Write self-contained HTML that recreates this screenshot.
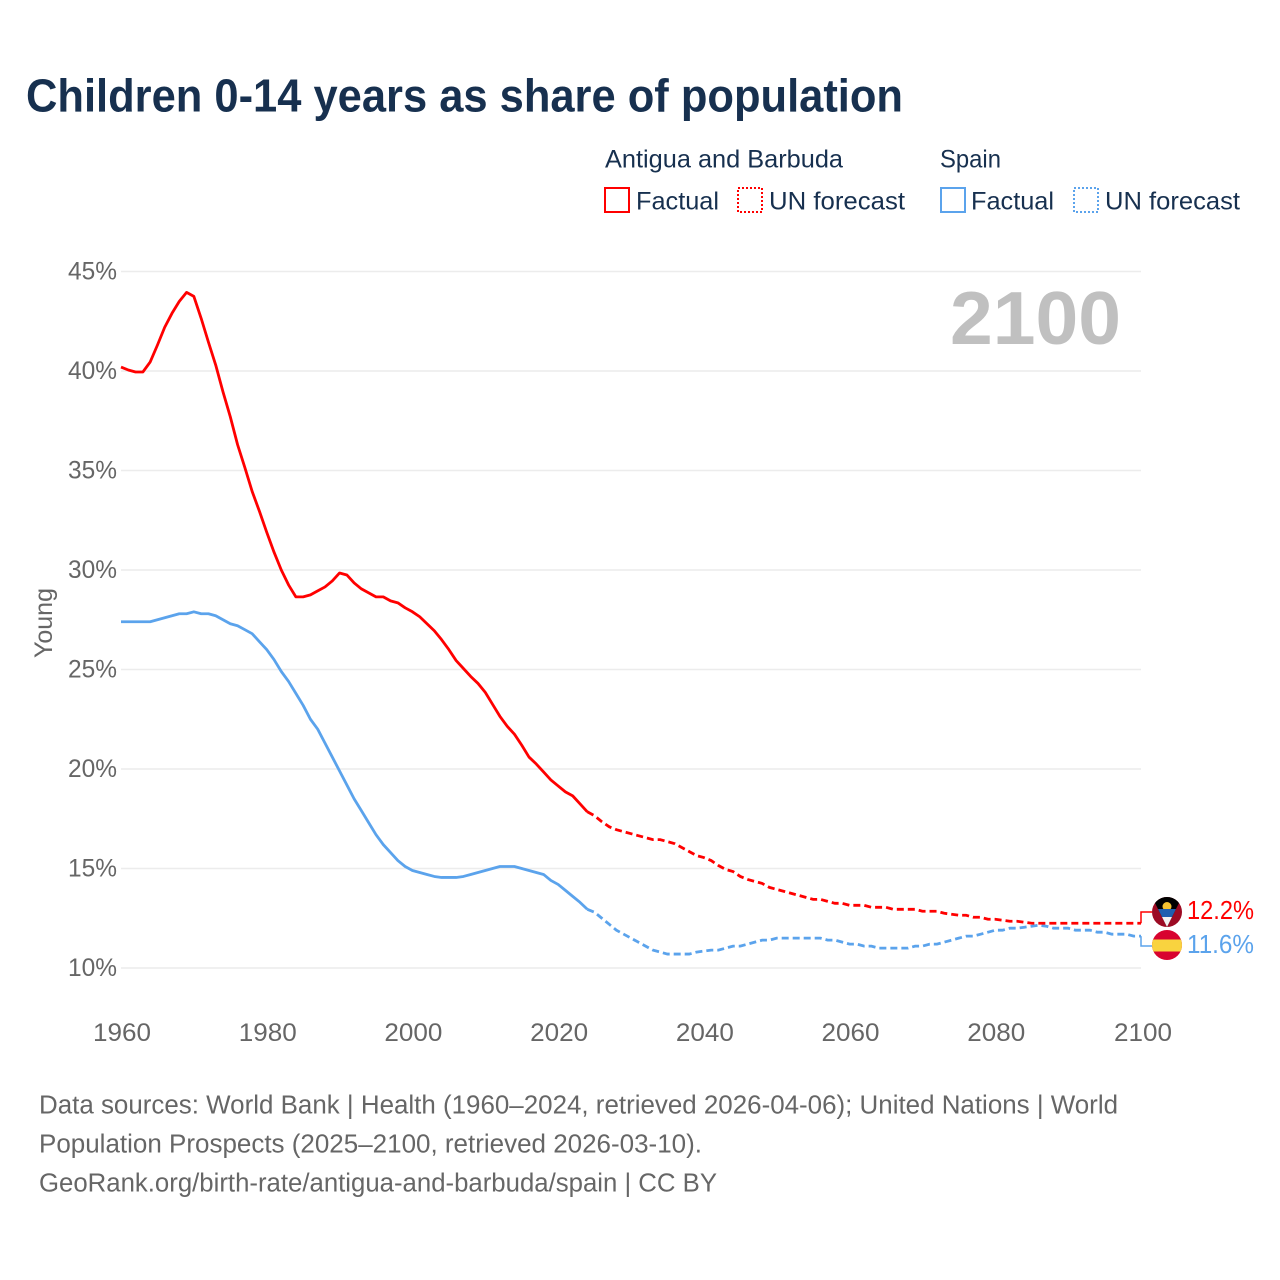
<!DOCTYPE html>
<html lang="en">
<head>
<meta charset="utf-8">
<title>Children 0-14 years as share of population</title>
<style>
html,body{margin:0;padding:0;background:#fff}
svg{display:block;font-family:"Liberation Sans",sans-serif}
.legend{fill:#17304f;font-size:25px}
.foot{fill:#666;font-size:25.5px}
.tick{fill:#666;font-size:25px}
</style>
</head>
<body>
<svg id="chart" xmlns="http://www.w3.org/2000/svg" width="1280" height="1280" viewBox="0 0 1280 1280">
<rect width="1280" height="1280" fill="#fff"/>
<text x="26" y="111.5" font-size="46" font-weight="700" fill="#17304f" textLength="877" lengthAdjust="spacingAndGlyphs">Children 0-14 years as share of population</text>

<g>
<text class="legend" x="605" y="167.5" textLength="238" lengthAdjust="spacingAndGlyphs">Antigua and Barbuda</text>
<text class="legend" x="940" y="167.5" textLength="61" lengthAdjust="spacingAndGlyphs">Spain</text>
<rect x="605" y="188" width="24" height="24" fill="none" stroke="#ff0000" stroke-width="2"/>
<text class="legend" x="636" y="209.5" textLength="83" lengthAdjust="spacingAndGlyphs">Factual</text>
<rect x="738" y="188" width="24" height="24" fill="none" stroke="#ff0000" stroke-width="2" stroke-dasharray="2 2"/>
<text class="legend" x="769" y="209.5" textLength="136" lengthAdjust="spacingAndGlyphs">UN forecast</text>
<rect x="941" y="188" width="24" height="24" fill="none" stroke="#5ba3ec" stroke-width="2"/>
<text class="legend" x="971" y="209.5" textLength="83" lengthAdjust="spacingAndGlyphs">Factual</text>
<rect x="1074" y="188" width="24" height="24" fill="none" stroke="#5ba3ec" stroke-width="2" stroke-dasharray="2 2"/>
<text class="legend" x="1105" y="209.5" textLength="135" lengthAdjust="spacingAndGlyphs">UN forecast</text>
</g>

<g id="grid"></g>
<g id="yticks"></g>
<g id="xticks"></g>
<text transform="translate(52,623) rotate(-90)" text-anchor="middle" font-size="25" fill="#666" textLength="70" lengthAdjust="spacingAndGlyphs">Young</text>
<text x="950" y="344" font-size="75" font-weight="700" fill="#c0c0c0" textLength="171" lengthAdjust="spacingAndGlyphs">2100</text>
<g id="series"></g>

<defs>
<clipPath id="clipA"><circle cx="1167" cy="912" r="15"/></clipPath>
<clipPath id="clipS"><circle cx="1167" cy="945" r="15"/></clipPath>
</defs>
<g clip-path="url(#clipA)">
<rect x="1152" y="897" width="30" height="30" fill="#9c0b24"/>
<polygon points="1152,897 1182,897 1167,927" fill="#000"/>
<circle cx="1167" cy="906.5" r="4.5" fill="#f5c231"/>
<polygon points="1158,909 1176,909 1172,917 1162,917" fill="#1f5fb0"/>
<polygon points="1162,917 1172,917 1167,927" fill="#f2f2f2"/>
</g>
<g clip-path="url(#clipS)">
<rect x="1152" y="930" width="30" height="30" fill="#d8032f"/>
<rect x="1152" y="939.5" width="30" height="12" fill="#f9d33f"/>
</g>
<text x="1187" y="919" font-size="26" fill="#ff0000" textLength="67" lengthAdjust="spacingAndGlyphs">12.2%</text>
<text x="1187" y="953" font-size="26" fill="#5ba3ec" textLength="67" lengthAdjust="spacingAndGlyphs">11.6%</text>

<g>
<text class="foot" x="39" y="1113.5" textLength="1079" lengthAdjust="spacingAndGlyphs">Data sources: World Bank | Health (1960–2024, retrieved 2026-04-06); United Nations | World</text>
<text class="foot" x="39" y="1152.5" textLength="663" lengthAdjust="spacingAndGlyphs">Population Prospects (2025–2100, retrieved 2026-03-10).</text>
<text class="foot" x="39" y="1191.5" textLength="678" lengthAdjust="spacingAndGlyphs">GeoRank.org/birth-rate/antigua-and-barbuda/spain | CC BY</text>
</g>
</svg>
<script>
const firstYear = 1960;
const lastFactualYear = 2024;
const xTickYears = [1960, 1980, 2000, 2020, 2040, 2060, 2080, 2100];
const yTickValues = [10, 15, 20, 25, 30, 35, 40, 45];
const antiguaValues = [
40.2,40.05,39.95,39.95,40.45,41.3,42.2,42.9,43.5,43.95,
43.75,42.65,41.45,40.3,38.95,37.7,36.3,35.15,33.95,32.95,
31.9,30.9,30,29.25,28.65,28.65,28.75,28.95,29.15,29.45,
29.85,29.75,29.35,29.05,28.85,28.65,28.65,28.45,28.35,28.1,
27.9,27.65,27.3,26.95,26.5,26,25.45,25.05,24.65,24.3,
23.85,23.25,22.65,22.15,21.75,21.2,20.6,20.25,19.85,19.45,
19.15,18.85,18.65,18.25,17.85,17.65,17.35,17.1,16.95,16.85,
16.75,16.65,16.55,16.45,16.45,16.35,16.25,16.05,15.85,15.65,
15.55,15.4,15.15,14.95,14.85,14.6,14.45,14.35,14.25,14.05,
13.95,13.85,13.75,13.65,13.55,13.45,13.45,13.35,13.25,13.25,
13.15,13.15,13.15,13.05,13.05,13.05,12.95,12.95,12.95,12.95,
12.85,12.85,12.85,12.75,12.7,12.65,12.65,12.55,12.55,12.45,
12.45,12.4,12.35,12.35,12.3,12.25,12.25,12.25,12.25,12.25,
12.25,12.25,12.25,12.25,12.25,12.25,12.25,12.25,12.25,12.25,
12.25
];
const spainValues = [
27.4,27.4,27.4,27.4,27.4,27.5,27.6,27.7,27.8,27.8,
27.9,27.8,27.8,27.7,27.5,27.3,27.2,27,26.8,26.4,
26,25.5,24.9,24.4,23.8,23.2,22.5,22,21.3,20.6,
19.9,19.2,18.5,17.9,17.3,16.7,16.2,15.8,15.4,15.1,
14.9,14.8,14.7,14.6,14.55,14.55,14.55,14.6,14.7,14.8,
14.9,15,15.1,15.1,15.1,15,14.9,14.8,14.7,14.4,
14.2,13.9,13.6,13.3,12.95,12.8,12.5,12.2,11.9,11.7,
11.5,11.3,11.1,10.9,10.8,10.7,10.7,10.7,10.7,10.8,
10.85,10.9,10.9,11,11.1,11.1,11.2,11.3,11.4,11.4,
11.5,11.5,11.5,11.5,11.5,11.5,11.5,11.4,11.4,11.3,
11.2,11.2,11.1,11.1,11,11,11,11,11,11.1,
11.1,11.2,11.2,11.3,11.4,11.5,11.6,11.6,11.7,11.8,
11.9,11.9,12,12,12.05,12.1,12.15,12.1,12,12,
12,11.9,11.9,11.9,11.8,11.8,11.7,11.7,11.7,11.6,
11.6
];
const NS = 'http://www.w3.org/2000/svg';
function xScale(year) { return 121 + (year - 1960) * (1020 / 140); }
function yScale(v) { return 968 - (v - 10) * 19.9; }
function make(tag, attrs, parent) {
  const el = document.createElementNS(NS, tag);
  for (const k in attrs) el.setAttribute(k, attrs[k]);
  parent.appendChild(el);
  return el;
}
const gridG = document.getElementById('grid');
const yG = document.getElementById('yticks');
const xG = document.getElementById('xticks');
const seriesG = document.getElementById('series');

yTickValues.forEach(function (v) {
  const line = make('line', {x1: 121, x2: 1141, y1: yScale(v), y2: yScale(v), stroke: '#ececec', 'stroke-width': 1.5}, gridG);
  
  
  const t = make('text', {x: 68, y: yScale(v) + 8, class: 'tick', textLength: 49, lengthAdjust: 'spacingAndGlyphs'}, yG);
  
  
  t.textContent = v + '%';
});
xTickYears.forEach(function (yr) {
  const t = make('text', {x: xScale(yr) - 28 + (yr === 2100 ? 1 : 0), y: 1041, class: 'tick', textLength: 58, lengthAdjust: 'spacingAndGlyphs'}, xG);
  
  
  t.textContent = yr;
});
function pathFor(values, fromYear, toYear) {
  let d = '';
  for (let yr = fromYear; yr <= toYear; yr++) {
    d += (d ? 'L' : 'M') + xScale(yr).toFixed(2) + ' ' + yScale(values[yr - firstYear]).toFixed(2);
  }
  return d;
}
function drawSeries(name, values, color) {
  const end = firstYear + values.length - 1;
  const factual = make('path', {d: pathFor(values, firstYear, lastFactualYear), fill: 'none', stroke: color, 'stroke-width': 2.8, 'stroke-linejoin': 'round'}, seriesG);
  
  
  const forecast = make('path', {d: pathFor(values, lastFactualYear, end), fill: 'none', stroke: color, 'stroke-width': 2.8, 'stroke-dasharray': '7 4'}, seriesG);
  
  
}
drawSeries('spain', spainValues, '#5ba3ec');
drawSeries('antigua', antiguaValues, '#ff0000');
const endYx = xScale(2100);
const connA = make('path', {d: 'M' + endYx + ' ' + yScale(antiguaValues[antiguaValues.length - 1]) + 'V912H1152', fill: 'none', stroke: '#ff0000', 'stroke-width': 1.5}, seriesG);


const connS = make('path', {d: 'M' + endYx + ' ' + yScale(spainValues[spainValues.length - 1]) + 'V946H1152', fill: 'none', stroke: '#5ba3ec', 'stroke-width': 1.5}, seriesG);


</script>
</body>
</html>
